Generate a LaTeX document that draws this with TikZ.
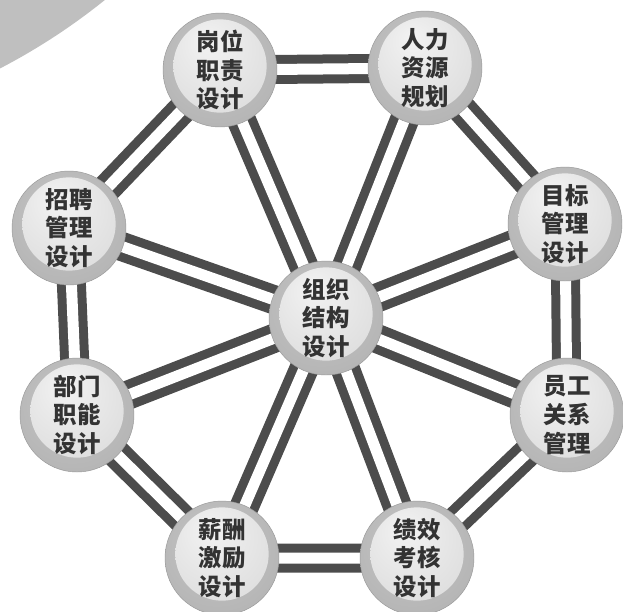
\documentclass[tikz,border=0pt]{standalone}
\usepackage{fontspec}
\newfontfamily\cjk{Noto Sans CJK SC}
\usetikzlibrary{backgrounds}
\pgfdeclareradialshading{ballrim}{\pgfpoint{-4bp}{8bp}}{color(0bp)=(gray!45); color(34bp)=(gray!60); color(50bp)=(gray!90)}
\pgfdeclareradialshading{ballcap}{\pgfpoint{-6bp}{14bp}}{color(0bp)=(gray!10); color(32bp)=(gray!28); color(50bp)=(gray!50)}
\tikzset{
  ball/.style={circle, minimum size=3.42cm, inner sep=0pt, shading=ballrim,
    draw=gray!80, line width=0.4pt, align=center, text=black!80,
    font=\cjk\bfseries\fontsize{20}{24.5}\selectfont,
    path picture={\shade[shading=ballcap] ([yshift=0.12cm]path picture bounding box.center) circle (1.4cm);}},
  bar/.style={draw=gray!60!black, line width=0.27cm, double=white, double distance=0.33cm}
}
\begin{document}
\begin{tikzpicture}[x=0.03cm, y=-0.03cm]
	\useasboundingbox (0,0) rectangle (623,611);
	% nodes of the wheel
	\node[ball] (zzjg) at (326,318) {组织\\结构\\设计};
	\node[ball] (gwzz) at (220,70)  {岗位\\职责\\设计};
	\node[ball] (rlzy) at (425,68)  {人力\\资源\\规划};
	\node[ball] (mbgl) at (565,224) {目标\\管理\\设计};
	\node[ball] (ygbx) at (567,415) {员工\\关系\\管理};
	\node[ball] (jxkh) at (417,558) {绩效\\考核\\设计};
	\node[ball] (xcjl) at (222,558) {薪酬\\激励\\设计};
	\node[ball] (bmzn) at (77,415)  {部门\\职能\\设计};
	\node[ball] (zpgl) at (69,228)  {招聘\\管理\\设计};
	\begin{scope}[on background layer]
		\begin{scope}
			\clip (0,0) rectangle (623,611);
			\fill[gray!50] (-290,-491) circle (18.9cm);
		\end{scope}
		% rim
		\draw[bar] (gwzz.center)--(rlzy.center) (rlzy.center)--(mbgl.center) (mbgl.center)--(ygbx.center);
		\draw[bar] (ygbx.center)--(jxkh.center) (jxkh.center)--(xcjl.center) (xcjl.center)--(bmzn.center);
		\draw[bar] (bmzn.center)--(zpgl.center) (zpgl.center)--(gwzz.center);
		% spokes
		\draw[bar] (zzjg.center)--(gwzz.center) (zzjg.center)--(rlzy.center) (zzjg.center)--(mbgl.center) (zzjg.center)--(ygbx.center);
		\draw[bar] (zzjg.center)--(jxkh.center) (zzjg.center)--(xcjl.center) (zzjg.center)--(bmzn.center) (zzjg.center)--(zpgl.center);
	\end{scope}
\end{tikzpicture}
\end{document}
